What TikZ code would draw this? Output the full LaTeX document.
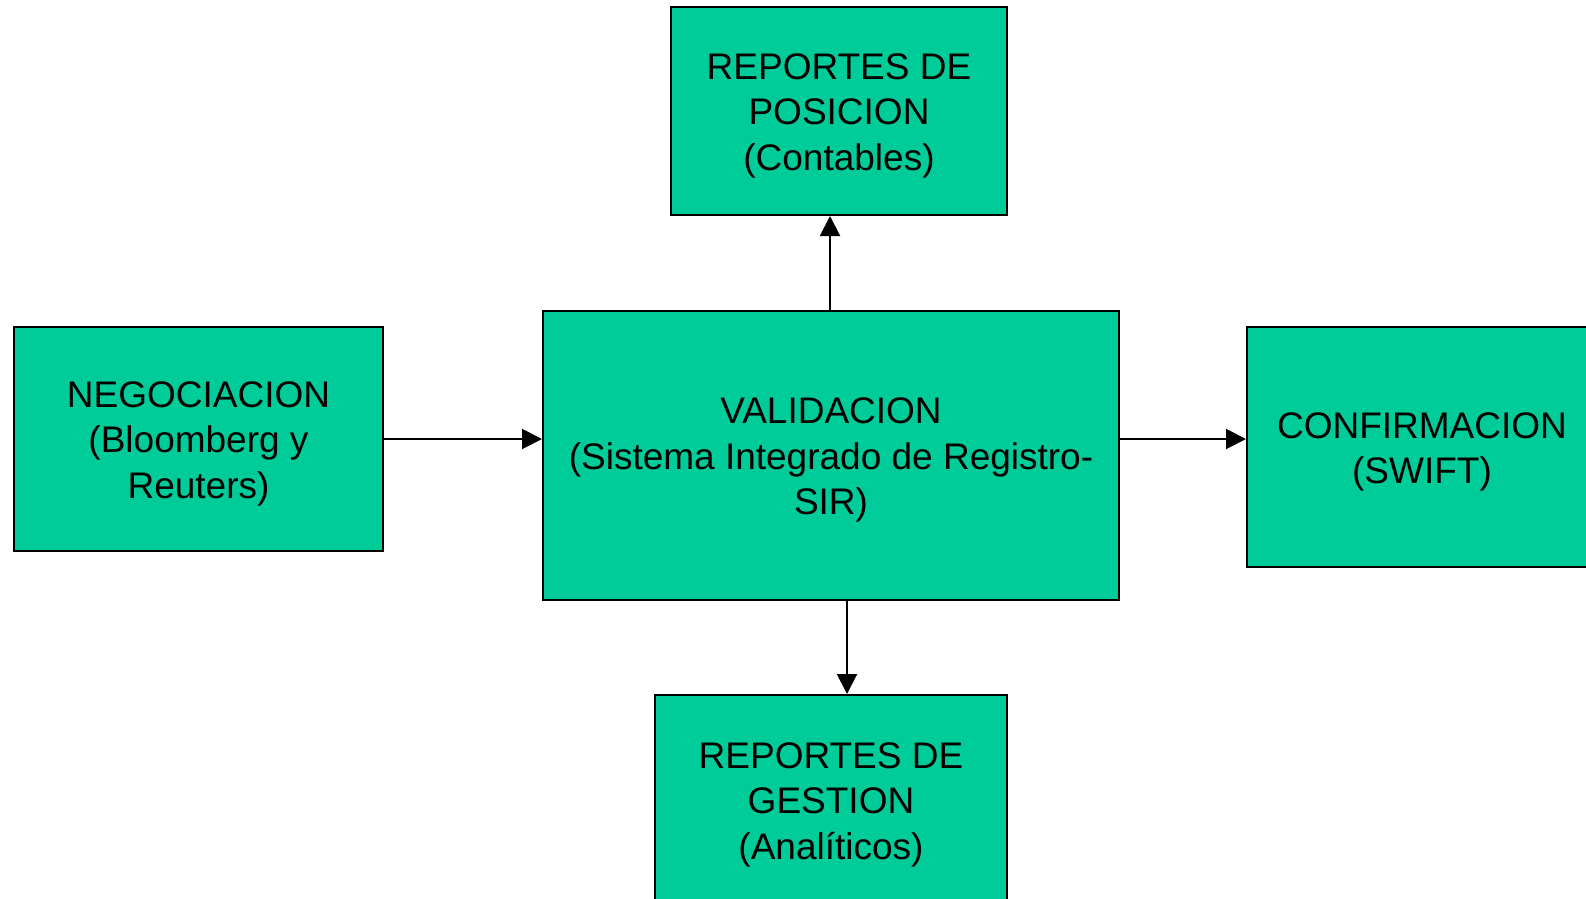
\documentclass[tikz,border=0pt]{standalone}
\usepackage{fontspec}
\setmainfont{Liberation Sans}
\usetikzlibrary{arrows.meta}
\definecolor{boxgreen}{RGB}{0,204,153}
\newcommand\mytopstrut{\rule{0pt}{17.7pt}}
\begin{document}
\begin{tikzpicture}[x=0.5pt,y=-0.5pt,
  box/.style={draw=black,line width=1pt,fill=boxgreen,rectangle,align=center,
    inner sep=0pt,font=\fontsize{18.5}{22.75}\selectfont},
  arr/.style={line width=1pt,-{Triangle[length=10pt,width=10pt]}}]
\useasboundingbox (0,0) rectangle (1586,899);
\fill[white] (0,0) rectangle (1586,899);
\node[box,minimum width=336*0.5pt,minimum height=208*0.5pt] (top) at (839,111)
  {\mytopstrut REPORTES DE\\POSICION\\(Contables)};
\node[box,minimum width=369*0.5pt,minimum height=224*0.5pt] (neg) at (198.5,439)
  {\mytopstrut NEGOCIACION\\(Bloomberg y\\Reuters)};
\node[box,minimum width=576*0.5pt,minimum height=289*0.5pt] (val) at (831,455.5)
  {\mytopstrut VALIDACION\\(Sistema Integrado de Registro-\\SIR)};
\node[box,minimum width=350*0.5pt,minimum height=240*0.5pt] (conf) at (1422,447)
  {\mytopstrut CONFIRMACION\\(SWIFT)};
\node[box,minimum width=352*0.5pt,minimum height=210*0.5pt] (gest) at (831,800)
  {\mytopstrut REPORTES DE\\GESTION\\(Analíticos)};
\coordinate (ux) at (830,0);
\coordinate (dx) at (847,0);
\coordinate (hy) at (0,439);
\draw[arr] (ux |- val.north) -- (ux |- top.south);
\draw[arr] (dx |- val.south) -- (dx |- gest.north);
\draw[arr] (neg.east |- hy) -- (val.west |- hy);
\draw[arr] (val.east |- hy) -- (conf.west |- hy);
\end{tikzpicture}
\end{document}
